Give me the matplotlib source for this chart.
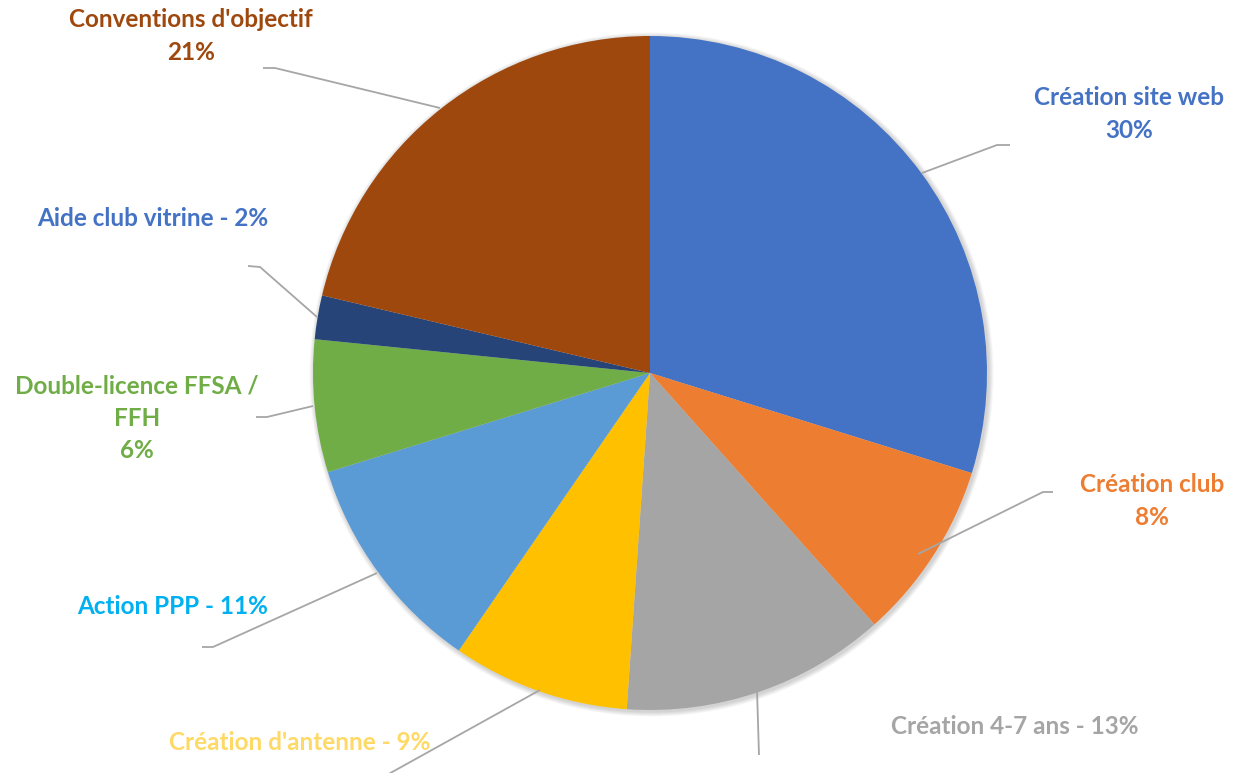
import matplotlib.pyplot as plt
from matplotlib.patches import Circle

# data
labels = ["Création site web", "Création club", "Création 4-7 ans", "Création d'antenne",
          "Action PPP", "Double-licence FFSA /\nFFH", "Aide club vitrine", "Conventions d'objectif"]
shares = [29.8, 8.6, 12.7, 8.5, 10.65, 6.35, 2.1, 21.3]
pct_text = ["30%", "8%", "13%", "9%", "11%", "6%", "2%", "21%"]
slice_colors = ["#4472C4", "#ED7D31", "#A5A5A5", "#FFC000", "#5B9BD5", "#70AD47", "#264478", "#9E480E"]
text_colors = ["#4472C4", "#ED7D31", "#A5A5A5", "#FFD966", "#00B0F0", "#70AD47", "#4472C4", "#9E480E"]
# True -> "name\nXX%", False -> "name - XX%"
two_line = [True, True, False, False, False, True, False, True]

# layout (pixel coords, y from top)
W, H = 1255, 773
center = (650, 373)
radius = 337
label_pos = [(1129, 114), (1152, 501), (1015, 727), (300, 742),
             (173, 607), (137, 418), (153, 218), (191, 36)]
leaders = [
    [(922, 173), (997, 145), (1010, 145)],
    [(918, 554), (1043, 492), (1053, 492)],
    [(757, 690), (759, 755)],
    [(540, 690), (385, 776)],
    [(377, 573), (213, 647), (202, 647)],
    [(313, 406), (267, 417), (256, 417)],
    [(317, 317), (260, 267), (248, 266)],
    [(440, 108), (275, 68), (263, 68)],
]

fig = plt.figure(figsize=(W / 100, H / 100), dpi=100)
ax = fig.add_axes([0, 0, 1, 1])
ax.set_aspect("equal")

cx, cy = center[0], H - center[1]
# soft shadow round the pie
for k in range(1, 6):
    ax.add_patch(Circle((cx + 1.5, cy - 1.5), radius + k, color="black", alpha=0.035, lw=0, zorder=0))

ax.pie(shares, colors=slice_colors, startangle=90, counterclock=False,
       center=(cx, cy), radius=radius, frame=True,
       wedgeprops=dict(linewidth=0, zorder=1))
ax.set_xlim(0, W)
ax.set_ylim(0, H)
ax.axis("off")

for pts in leaders:
    xs = [p[0] for p in pts]
    ys = [H - p[1] for p in pts]
    ax.plot(xs, ys, color="#A6A6A6", lw=1.3, solid_capstyle="butt", zorder=2)

for lab, pct, col, two, pos in zip(labels, pct_text, text_colors, two_line, label_pos):
    txt = f"{lab}\n{pct}" if two else f"{lab} - {pct}"
    ax.text(pos[0], H - pos[1], txt, color=col, ha="center", va="center",
            fontsize=17.5, fontweight="bold", family="Lato", linespacing=1.48)

fig.savefig("out.png", dpi=100)
